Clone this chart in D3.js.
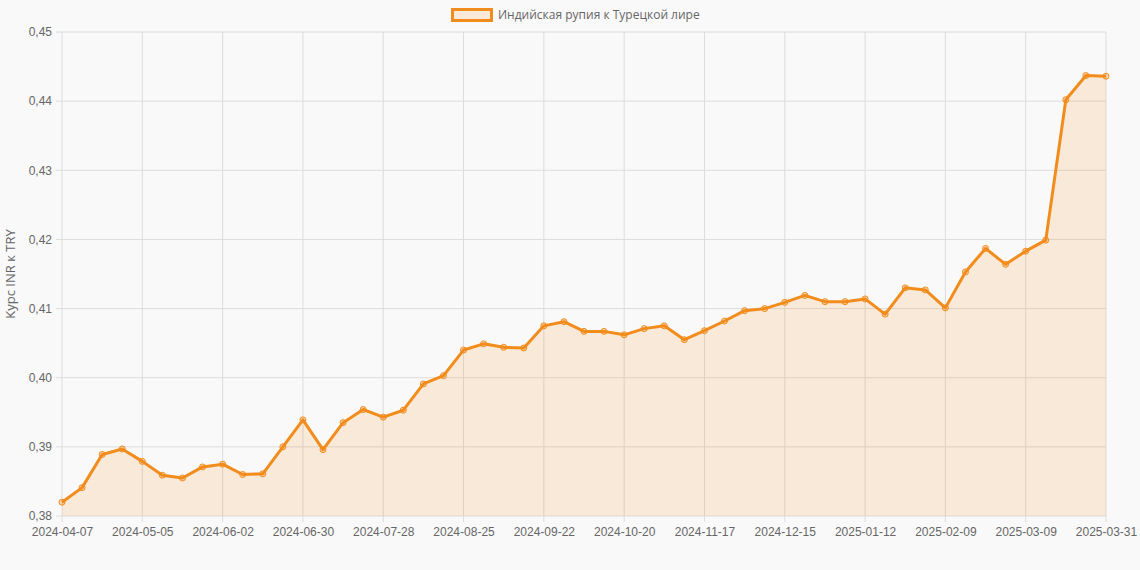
<!DOCTYPE html>
<html>
<head>
<meta charset="utf-8">
<script src="https://cdn.jsdelivr.net/npm/d3@7"></script>
<style>
  body { margin: 0; background: #f9f9f9; font-family: "Open Sans", "DejaVu Sans", sans-serif; }
</style>
</head>
<body>
<div class="chart"></div>
<script>
// weekly dates, last point is 2025-03-31
var dates = [
  '2024-04-07','2024-04-14','2024-04-21','2024-04-28','2024-05-05','2024-05-12','2024-05-19','2024-05-26',
  '2024-06-02','2024-06-09','2024-06-16','2024-06-23','2024-06-30','2024-07-07','2024-07-14','2024-07-21',
  '2024-07-28','2024-08-04','2024-08-11','2024-08-18','2024-08-25','2024-09-01','2024-09-08','2024-09-15',
  '2024-09-22','2024-09-29','2024-10-06','2024-10-13','2024-10-20','2024-10-27','2024-11-03','2024-11-10',
  '2024-11-17','2024-11-24','2024-12-01','2024-12-08','2024-12-15','2024-12-22','2024-12-29','2025-01-05',
  '2025-01-12','2025-01-19','2025-01-26','2025-02-02','2025-02-09','2025-02-16','2025-02-23','2025-03-02',
  '2025-03-09','2025-03-16','2025-03-23','2025-03-30','2025-03-31'
];
var rates = [
  0.3820, 0.3841, 0.3889, 0.3897, 0.3879, 0.3859, 0.3855, 0.3871,
  0.3875, 0.3860, 0.3861, 0.3900, 0.3939, 0.3896, 0.3935, 0.3954,
  0.3943, 0.3953, 0.3991, 0.4003, 0.4040, 0.4049, 0.4044, 0.4043,
  0.4075, 0.4081, 0.4067, 0.4067, 0.4062, 0.4071, 0.4075, 0.4055,
  0.4068, 0.4082, 0.4097, 0.4100, 0.4109, 0.4119, 0.4110, 0.4110,
  0.4114, 0.4092, 0.4130, 0.4127, 0.4101, 0.4153, 0.4187, 0.4164,
  0.4183, 0.4199, 0.4402, 0.4437, 0.4436
];
var yTicks = [0.38, 0.39, 0.40, 0.41, 0.42, 0.43, 0.44, 0.45];
var seriesName = 'Индийская рупия к Турецкой лире';
var axisTitle = 'Курс INR к TRY';

var W = 1140, H = 570;
var margin = { top: 32, right: 34, bottom: 54, left: 62 };
var width = W - margin.left - margin.right;
var height = H - margin.top - margin.bottom;
var color = '#f28c1c';

var svg = d3.select('.chart').append('svg')
  .attr('width', W).attr('height', H)
  .style('font-family', '"Open Sans", "DejaVu Sans", sans-serif');

var g = svg.append('g')
  .attr('transform', `translate(${margin.left}, ${margin.top})`);

var xScale = d3.scalePoint().domain(dates).range([0, width]);
var yScale = d3.scaleLinear().domain([0.38, 0.45]).range([height, 0]);

// show every 4th label plus the last one
var xLabels = dates.filter((d, i) => i % 4 === 0 || i === dates.length - 1);

// grid
g.append('g').selectAll('line').data(yTicks).enter().append('line')
  .attr('x1', -6).attr('x2', width)
  .attr('y1', d => yScale(d)).attr('y2', d => yScale(d))
  .style('stroke', '#dcdcdc');
g.append('g').selectAll('line').data(xLabels).enter().append('line')
  .attr('x1', d => xScale(d)).attr('x2', d => xScale(d))
  .attr('y1', 0).attr('y2', height + 6)
  .style('stroke', '#dcdcdc');

var fmt = d => d3.format('.2f')(d).replace('.', ',');

var yAxis = g.append('g')
  .call(d3.axisLeft(yScale).tickValues(yTicks).tickFormat(fmt).tickSize(0).tickPadding(10));
yAxis.select('.domain').remove();
yAxis.selectAll('text').style('font-size', '12px').style('fill', '#666');

var xAxis = g.append('g')
  .attr('transform', `translate(0, ${height})`)
  .call(d3.axisBottom(xScale).tickValues(xLabels).tickSize(0).tickPadding(11));
xAxis.select('.domain').remove();
xAxis.selectAll('text').style('font-size', '12px').style('fill', '#666');

g.append('text')
  .attr('transform', `translate(-47, ${height / 2}) rotate(-90)`)
  .style('text-anchor', 'middle')
  .style('font-size', '13px')
  .style('fill', '#666')
  .text(axisTitle);

var area = d3.area()
  .x((d, i) => xScale(dates[i]))
  .y0(height)
  .y1(d => yScale(d));
var line = d3.line()
  .x((d, i) => xScale(dates[i]))
  .y(d => yScale(d));

g.append('path').attr('d', area(rates))
  .style('fill', color).style('fill-opacity', 0.15);
g.append('path').attr('d', line(rates))
  .style('fill', 'none').style('stroke', color).style('stroke-width', 3)
  .style('stroke-linejoin', 'round');
g.selectAll('.pt').data(rates).enter().append('circle')
  .attr('class', 'pt')
  .attr('cx', (d, i) => xScale(dates[i]))
  .attr('cy', d => yScale(d))
  .attr('r', 3)
  .style('fill', 'rgba(242,140,28,0.3)')
  .style('stroke', color).style('stroke-width', 1);

// legend
var legend = svg.append('g').attr('transform', 'translate(451, 8)');
legend.append('rect').attr('x', 1.5).attr('y', 1.5).attr('width', 39).attr('height', 11)
  .style('fill', 'rgba(242,140,28,0.15)').style('stroke', color).style('stroke-width', 3);
legend.append('text').attr('x', 47).attr('y', 11)
  .style('font-size', '12px').style('fill', '#666').text(seriesName);
</script>
</body>
</html>
